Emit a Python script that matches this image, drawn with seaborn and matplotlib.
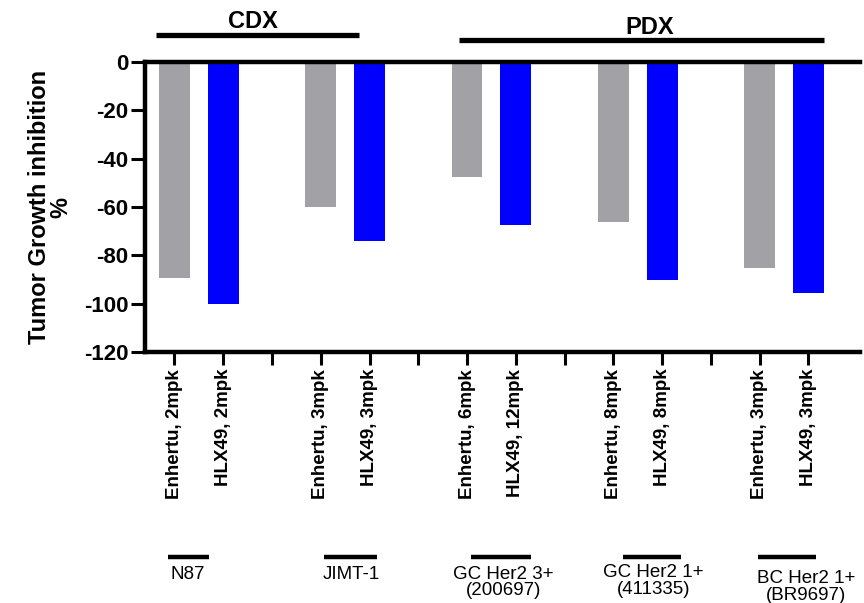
import matplotlib
matplotlib.use("Agg")
import matplotlib.pyplot as plt
import matplotlib.transforms as mtransforms
import seaborn as sns
import pandas as pd

# ---- data ----
bar_labels = ["Enhertu, 2mpk", "HLX49, 2mpk", "Enhertu, 3mpk", "HLX49, 3mpk",
              "Enhertu, 6mpk", "HLX49, 12mpk", "Enhertu, 8mpk", "HLX49, 8mpk",
              "Enhertu, 3mpk", "HLX49, 3mpk"]
drugs = ["Enhertu", "HLX49"] * 5
values = [-89.5, -100, -60, -74, -47.5, -67.5, -66, -90, -85, -95.5]
models = ["N87", "JIMT-1", "GC Her2 3+\n(200697)", "GC Her2 1+\n(411335)", "BC Her2 1+\n(BR9697)"]
yticks = [0, -20, -40, -60, -80, -100, -120]

# slot layout: two bars per model, one empty slot between groups
slots = []
for g in range(5):
    slots += [f"b{2*g}", f"b{2*g+1}"]
    if g < 4:
        slots.append(f"gap{g}")
bar_ids = [f"b{i}" for i in range(10)]

df = pd.DataFrame({"slot": bar_ids, "drug": drugs, "value": values})

sns.set_theme(style="white")
plt.rcParams["font.family"] = ["Liberation Sans", "DejaVu Sans"]
plt.rcParams["text.color"] = "black"
plt.rcParams["axes.labelcolor"] = "black"
plt.rcParams["xtick.color"] = "black"
plt.rcParams["ytick.color"] = "black"

fig = plt.figure(figsize=(8.64, 6.03), dpi=100)
ax = fig.add_axes([0.168, 0.416, 0.827, 0.481])

sns.barplot(data=df, x="slot", y="value", hue="drug", order=slots, dodge=False,
            palette={"Enhertu": "#A2A1A6", "HLX49": "#0000FF"}, width=0.63,
            saturation=1, legend=False, ax=ax, edgecolor="none", linewidth=0)

ax.set_ylim(-120, 0)
ax.set_xlim(-0.6, 14.05)
ax.set_yticks(yticks)
ax.set_yticklabels([str(v) for v in yticks], fontsize=16, fontweight="bold")

pos = list(range(len(slots)))
lab_map = dict(zip(bar_ids, bar_labels))
ax.set_xticks(pos)
ax.set_xticklabels([lab_map.get(s, "") for s in slots], rotation=90,
                   fontsize=13.5, fontweight="bold")
ax.set_xlabel("")
ax.set_ylabel("Tumor Growth inhibition\n%", fontsize=17, fontweight="bold",
              labelpad=8, linespacing=0.95)

for side in ["left", "top", "bottom"]:
    ax.spines[side].set_visible(True)
    ax.spines[side].set_color("black")
    ax.spines[side].set_linewidth(3.2)
ax.spines["right"].set_visible(False)
ax.tick_params(axis="y", direction="out", length=10, width=2.2, pad=2, left=True)
ax.tick_params(axis="x", direction="out", length=9, width=2.2, pad=3, bottom=True)

trans = mtransforms.blended_transform_factory(ax.transData, fig.transFigure)

# top CDX / PDX brackets
top_groups = [("CDX", -0.37, 3.79, 0.942, 1.6, 0.965),
              ("PDX", 5.84, 13.32, 0.934, 9.75, 0.955)]
for name, x0, x1, yl, xt, yt in top_groups:
    ax.plot([x0, x1], [yl, yl], color="black", lw=3.8, transform=trans, clip_on=False,
            solid_capstyle="butt")
    ax.text(xt, yt, name, transform=trans, ha="center", va="center",
            fontsize=17, fontweight="bold")

# bottom model labels
line_spans = [(-0.14, 0.70), (3.07, 4.16), (6.09, 7.32), (9.2, 10.39), (11.97, 13.16)]
text_x = [0.27, 3.63, 6.74, 9.82, 12.95]
text_y = [0.062, 0.062, 0.062, 0.064, 0.054]
for (x0, x1), tx, ty, name in zip(line_spans, text_x, text_y, models):
    ax.plot([x0, x1], [0.0763, 0.0763], color="black", lw=3.2, transform=trans,
            clip_on=False, solid_capstyle="butt")
    ax.text(tx, ty, name, transform=trans, ha="center", va="top", fontsize=13.5,
            linespacing=0.95)

fig.savefig("out.png", dpi=100)
